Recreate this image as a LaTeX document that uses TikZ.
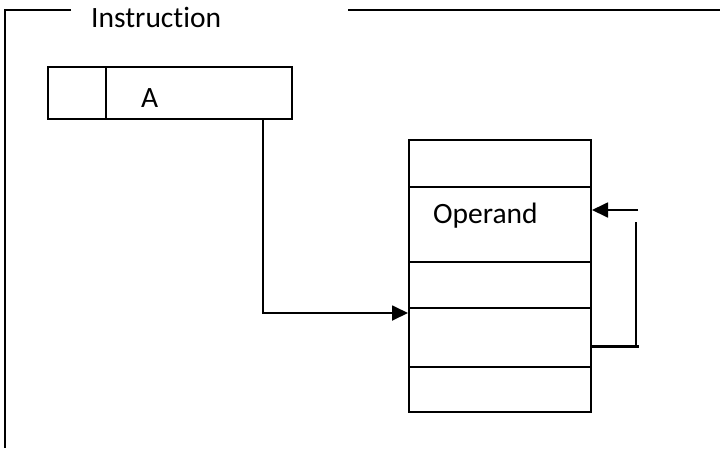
\documentclass[tikz,border=0pt]{standalone}
\usepackage{fontspec}
\setmainfont{Carlito}[Ligatures=NoCommon]
\usetikzlibrary{arrows.meta}
\begin{document}
\begin{tikzpicture}[x=1pt,y=-1pt,
  field/.style={draw,line width=1.6pt,inner sep=0pt,minimum height=52pt},
  cell/.style={draw,line width=2pt,inner sep=0pt,minimum width=182pt},
  label/.style={inner sep=0pt,anchor=base west,font=\fontsize{29.5}{31}\selectfont},
  link/.style={line width=1.8pt},
  tip/.style={-{Triangle[length=16pt,width=15pt]}}]
\useasboundingbox (0,0) rectangle (720,448);
% open frame
\draw[line width=1.8pt] (71,10) -- (5,10) -- (5,448);
\draw[line width=1.8pt] (348,10) -- (720,10);
\node[label] (title) at (91,27) {Instruction};
% instruction word: opcode field and address field
\node[field,minimum width=58pt,anchor=north west] (opc) at (47,66) {};
\node[field,minimum width=186pt,anchor=north west] (addr) at (105,66) {};
\node[label] (alabel) at (141,107) {A};
% memory column
\node[cell,minimum height=47pt,anchor=north west] (m1) at (408,139) {};
\node[cell,minimum height=75pt,anchor=north west] (m2) at (408,186) {};
\node[cell,minimum height=46pt,anchor=north west] (m3) at (408,261) {};
\node[cell,minimum height=59pt,anchor=north west] (m4) at (408,307) {};
\node[cell,minimum height=45pt,anchor=north west] (m5) at (408,366) {};
\node[label] (oplabel) at (433,223) {Operand};
% address A points into memory
\coordinate (aout) at ([xshift=158pt]addr.south west);
\coordinate (hit) at ([yshift=-6pt]m4.north west);
\draw[link,tip] (aout) |- (hit);
% indirect reference back to the operand
\coordinate (loopR) at ([xshift=47pt,yshift=-39pt]m4.north east);
\coordinate (loopT) at ([xshift=44pt,yshift=-36pt]m2.north east);
\coordinate (loopB) at ([xshift=44pt,yshift=-39pt]m4.north east);
\coordinate (back) at ([xshift=46pt,yshift=-24pt]m2.north east);
\coordinate (oin) at ([yshift=-24pt]m2.north east);
\draw[line width=3pt] ([yshift=-39pt]m4.north east) -- (loopR);
\draw[link] (loopB) -- (loopT);
\draw[link,tip] (back) -- (oin);
\end{tikzpicture}
\end{document}
